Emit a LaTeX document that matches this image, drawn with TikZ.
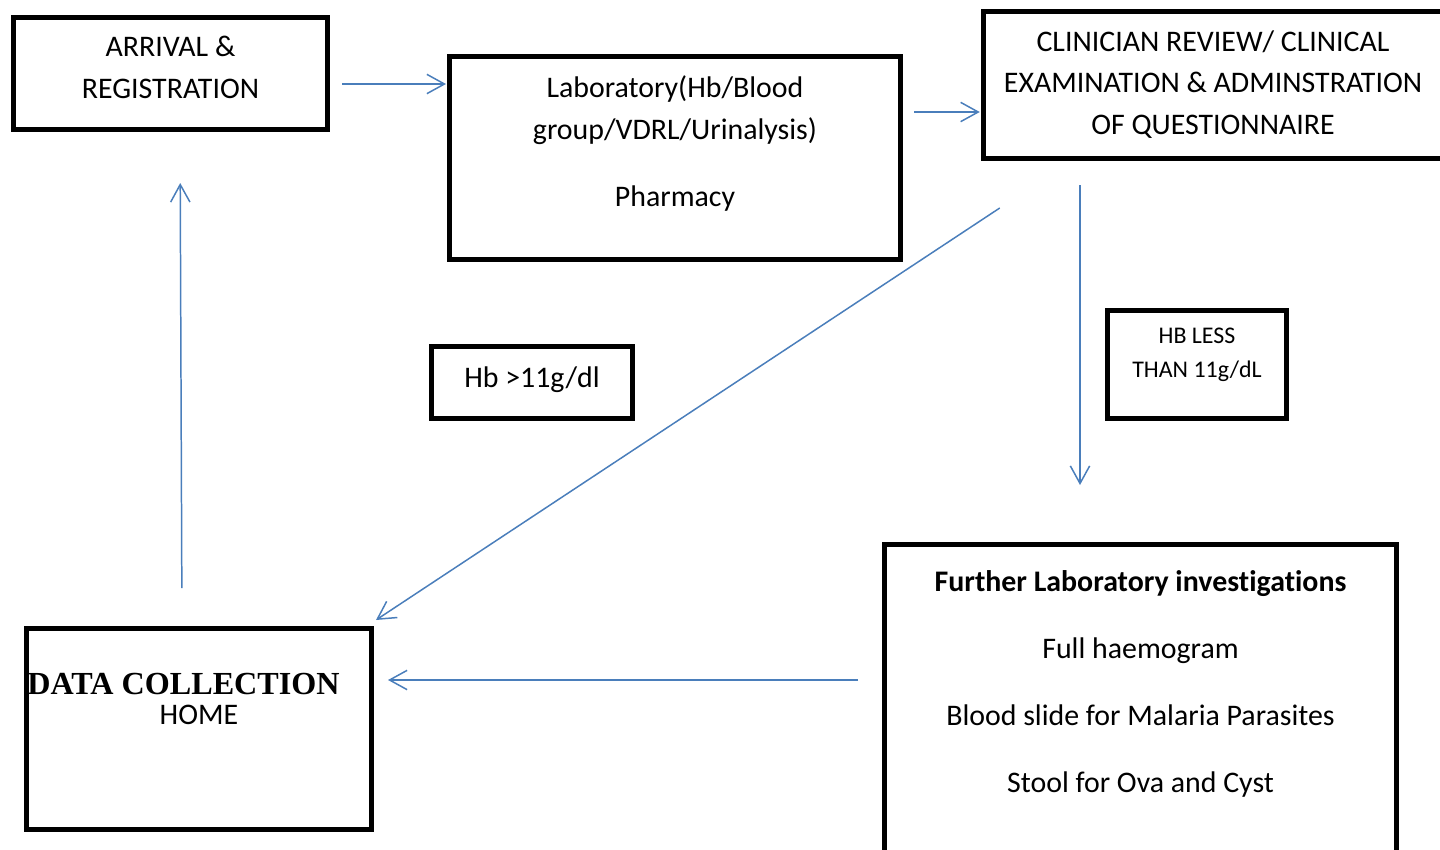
\documentclass[tikz,border=0pt]{standalone}
\usepackage{fontspec}
\setmainfont{Carlito}[Ligatures=NoCommon]
\newfontfamily\serifbf{Liberation Serif}
\usetikzlibrary{arrows.meta}
\definecolor{arrowblue}{HTML}{4A7EBB}
\newdimen\pxl
\pxl=0.02cm

\begin{document}
\begin{tikzpicture}[>={Straight Barb[length=10pt,width=11pt]}, x=0.02cm, y=-0.02cm,
    box/.style={draw, line width=2.8pt, anchor=north, inner ysep=0pt, outer sep=0pt,
        align=center, font=\fontsize{17}{23.5}\selectfont},
    flow/.style={->, draw=arrowblue, line width=0.85pt}]
        \useasboundingbox (0,0) rectangle (1440,849);
        \clip (0,0) rectangle (1440,849);

        % boxes
        \node[box, minimum width=314\pxl, text height=80.5\pxl, text depth=31.5\pxl]
            (arrival) at (170.5,17.5) {ARRIVAL \&\\REGISTRATION};
        \node[box, minimum width=451\pxl, text height=149.5\pxl, text depth=53.5\pxl]
            (lab) at (675,56.5) {Laboratory(Hb/Blood\\group/VDRL/Urinalysis)\\[14.5pt]Pharmacy};
        \node[box, minimum width=459.5\pxl, text height=122.5\pxl, text depth=24.5\pxl]
            (clin) at (1213,11.5) {CLINICIAN REVIEW/ CLINICAL\\EXAMINATION \& ADMINSTRATION\\OF QUESTIONNAIRE};
        \node[box, minimum width=201\pxl, text height=40.5\pxl, text depth=31.5\pxl]
            (hbhigh) at (532,346.5) {Hb >11g/dl};
        \node[box, minimum width=179\pxl, text height=66.5\pxl, text depth=41.5\pxl,
            font=\fontsize{13.6}{19.3}\selectfont]
            (hblow) at (1197,310.5) {HB LESS\\THAN 11g/dL};
        \node[box, minimum width=345\pxl, inner xsep=0pt, text height=95.5\pxl, text depth=105.5\pxl]
            (data) at (199,628.5) {{\serifbf\bfseries\fontsize{18.3}{18}\selectfont DATA COLLECTION}\hspace*{31\pxl}\\[-6.5pt]HOME};
        \node[box, minimum width=512\pxl, text height=247.5\pxl, text depth=88\pxl]
            (further) at (1140.5,544.5) {\textbf{Further Laboratory investigations}\\[14.5pt]Full haemogram\\[14.5pt]Blood slide for Malaria Parasites\\[14.5pt]Stool for Ova and Cyst};

        % arrows
        \draw[flow, shorten <=14.5\pxl, shorten >=3.5\pxl] (arrival.east |- 0,84) -- (lab.west |- 0,84);
        \draw[flow, shorten <=13.5\pxl, shorten >=3.5\pxl] (lab.east |- 0,112) -- (clin.west |- 0,112);
        \draw[flow, shorten <=26.5\pxl, shorten >=59.5\pxl] (clin.south -| 1080,0) -- (further.north -| 1080,0);
        \draw[flow] ([shift={(16.5,49.5)}]clin.south west) -- ([shift={(4.5,-8.5)}]data.north east);
        \draw[flow, shorten <=26.5\pxl, shorten >=16.5\pxl] (further.west |- 0,680) -- (data.east |- 0,680);
        \draw[flow, shorten <=40.5\pxl, shorten >=53.5\pxl] ([xshift=-17\pxl]data.north) -- ([xshift=9.5\pxl]arrival.south);
    \end{tikzpicture}
\end{document}
